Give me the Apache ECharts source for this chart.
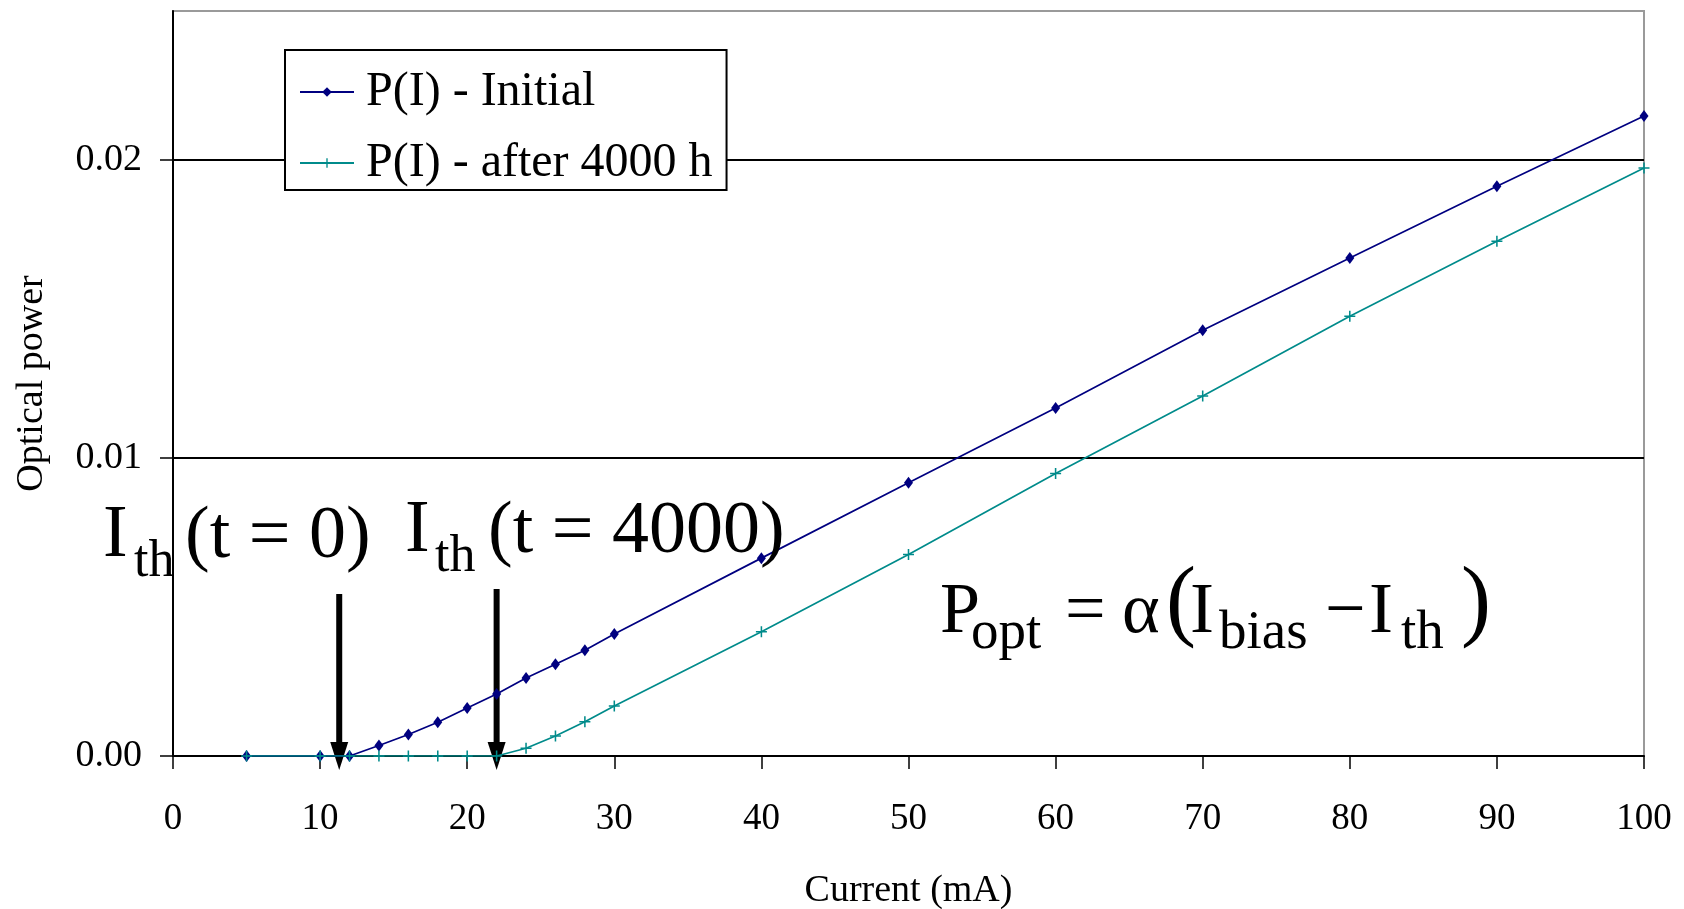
<!DOCTYPE html>
<html>
<head>
<meta charset="utf-8">
<title>P(I)</title>
<script src="https://cdn.jsdelivr.net/npm/echarts@6/dist/echarts.min.js"></script>
<style>
  html, body { margin: 0; padding: 0; background: #fff; }
  #main { width: 1684px; height: 909px; }
</style>
</head>
<body>
<div id="main"></div>
<script type="text/javascript">
// current (mA)
var current = [5, 10, 12, 14, 16, 18, 20, 22, 24, 26, 28, 30, 40, 50, 60, 70, 80, 90, 100];
// optical power, initial
var powerInitial = [0, 0, 0, 0.00035, 0.00072, 0.00113, 0.00161, 0.00208, 0.00262, 0.00308, 0.00355, 0.00409,
    0.00664, 0.00917, 0.01168, 0.01429, 0.01671, 0.01912, 0.02148];
// optical power after 4000 h
var powerAfter = [0, 0, 0, 0, 0, 0, 0, 0, 0.00026, 0.00067, 0.00115, 0.00168,
    0.00417, 0.00676, 0.00948, 0.01208, 0.01476, 0.01727, 0.01973];
var yTicks = [0, 0.01, 0.02];
// threshold currents pointed at by the arrows
var thresholds = [11.3, 22];

var serif = "'Liberation Serif', 'Times New Roman', serif";
var plusPath = 'path://M4.3,0H5.7V4.3H10V5.7H5.7V10H4.3V5.7H0V4.3H4.3Z';

function pair(xs, ys) {
    var out = [];
    for (var i = 0; i < xs.length; i++) out.push([xs[i], ys[i]]);
    return out;
}

var myChart = echarts.init(document.getElementById('main'));
var option = {
    animation: false,
    backgroundColor: '#fff',
    grid: {
        left: 173, right: 40, top: 11, bottom: 153,
        outerBoundsMode: 'none',
        show: true, borderColor: '#9a9a9a', borderWidth: 2
    },
    legend: {
        orient: 'vertical',
        left: 285, top: 50,
        backgroundColor: '#fff',
        borderColor: '#000', borderWidth: 2, borderRadius: 0,
        padding: [18, 14, 3, 14],
        itemGap: 23,
        itemWidth: 54, itemHeight: 12,
        textStyle: { fontFamily: serif, fontSize: 48, color: '#000', padding: [0, 0, 0, 7] },
        data: ['P(I) - Initial', 'P(I) - after 4000 h']
    },
    xAxis: {
        type: 'value',
        min: 0, max: 100, interval: 10,
        name: 'Current (mA)',
        nameLocation: 'middle',
        nameGap: 116,
        nameTextStyle: { fontFamily: serif, fontSize: 38, color: '#000' },
        axisLine: { lineStyle: { color: '#000', width: 2 } },
        axisTick: { inside: false, length: 13, lineStyle: { color: '#000', width: 1.5 } },
        axisLabel: { fontFamily: serif, fontSize: 37, color: '#000', margin: 45 },
        splitLine: { show: false }
    },
    yAxis: {
        type: 'value',
        min: 0, max: 0.025,
        name: 'Optical power',
        nameLocation: 'middle',
        nameRotate: 90,
        nameGap: 122,
        nameTextStyle: { fontFamily: serif, fontSize: 38, color: '#000' },
        axisLine: { show: true, lineStyle: { color: '#000', width: 2 } },
        axisTick: { show: true, length: 13, customValues: yTicks, lineStyle: { color: '#000', width: 1.5 } },
        axisLabel: {
            fontFamily: serif, fontSize: 38, color: '#000', margin: 31,
            customValues: yTicks,
            formatter: function (v) { return v.toFixed(2); }
        },
        splitLine: { show: true, showMinLine: false, showMaxLine: true, lineStyle: { color: '#000', width: 2 } }
    },
    series: [
        {
            name: 'P(I) - Initial',
            type: 'line',
            data: pair(current, powerInitial),
            symbol: 'diamond',
            symbolSize: [9, 12],
            lineStyle: { color: '#000080', width: 1.7 },
            itemStyle: { color: '#000080' },
            z: 3
        },
        {
            name: 'P(I) - after 4000 h',
            type: 'line',
            data: pair(current, powerAfter),
            symbol: plusPath,
            symbolSize: 11,
            lineStyle: { color: '#008b8b', width: 1.7 },
            itemStyle: { color: '#008b8b' },
            z: 4
        }
    ]
};
myChart.setOption(option);

// text piece placed by its baseline
function txt(str, x, baseline, size) {
    return {
        type: 'text', x: x, y: baseline - 0.34 * size, z: 100,
        style: { text: str, fontFamily: serif, fontSize: size, fill: '#000', align: 'left', verticalAlign: 'middle' }
    };
}

function arrow(val, topPx) {
    var p = myChart.convertToPixel({ gridIndex: 0 }, [val, 0]);
    var tip = p[1] + 14;
    return {
        type: 'group', z: 100,
        children: [
            { type: 'rect', shape: { x: p[0] - 3, y: topPx, width: 6, height: tip - 26 - topPx }, style: { fill: '#000' } },
            { type: 'polygon', shape: { points: [[p[0] - 9, tip - 28], [p[0] + 9, tip - 28], [p[0], tip]] }, style: { fill: '#000' } }
        ]
    };
}

var graphics = [
    // I_th (t = 0)
    txt('I', 103, 562, 74), txt('th', 134, 580, 52), txt('(t = 0)', 185, 563, 74),
    // I_th (t = 4000)
    txt('I', 405, 557, 74), txt('th', 435, 575, 52), txt('(t = 4000)', 488, 558, 74),
    // P_opt = alpha(I_bias - I_th)
    txt('P', 940, 638, 72), txt('opt', 971, 652, 55), txt('=', 1065, 638, 72), txt('\u03b1', 1122, 638, 72),
    txt('(', 1166, 636, 90), txt('I', 1190, 638, 72), txt('bias', 1219, 652, 55),
    txt('\u2212', 1325, 638, 72), txt('I', 1369, 638, 72), txt('th', 1401, 652, 55), txt(')', 1461, 636, 90),
    arrow(thresholds[0], 594),
    arrow(thresholds[1], 589)
];
myChart.setOption({ graphic: graphics });
</script>
</body>
</html>
